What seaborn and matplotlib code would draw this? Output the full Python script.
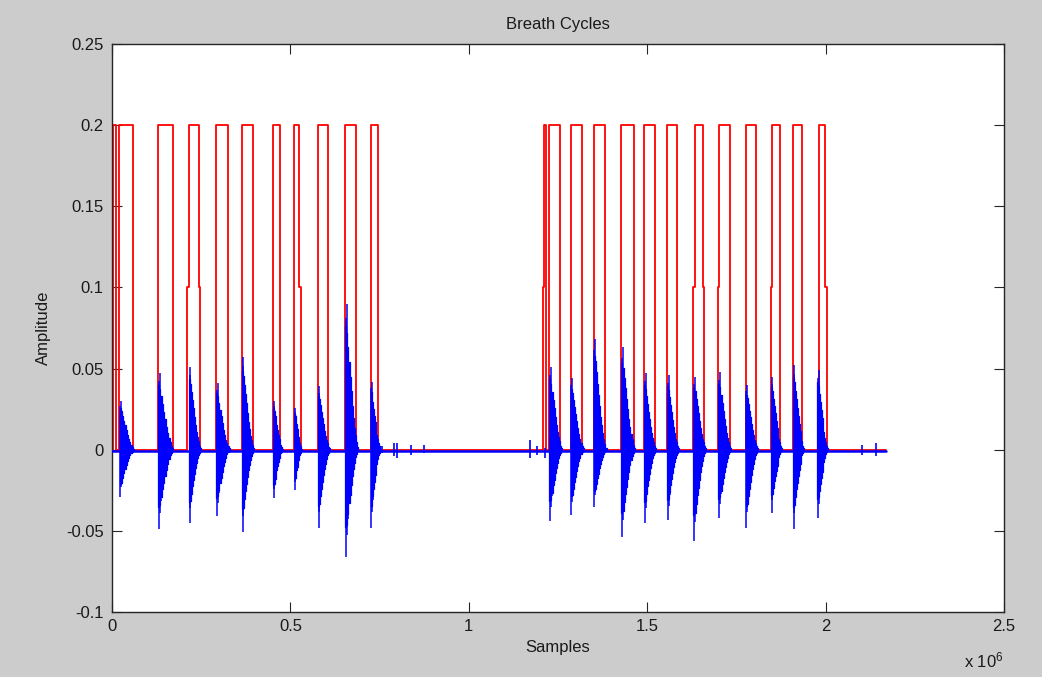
import numpy as np
import matplotlib
matplotlib.use("Agg")
import matplotlib.pyplot as plt
import seaborn as sns

# red gate: sample where each pulse leaves 0, reaches 0.2, leaves 0.2, is back at 0
gate_rise_lo = [4000, 20500, 128100, 211000, 291500, 364400, 452100, 510900, 577400, 653000, 725100,
                1208000, 1225600, 1285600, 1350900, 1427400, 1491900, 1556300, 1628400, 1698400,
                1776900, 1847800, 1909500, 1982400]
gate_rise_hi = [4000, 20500, 128100, 216600, 291500, 364400, 452100, 510900, 577400, 653000, 725100,
                1212000, 1225600, 1285600, 1350900, 1427400, 1491900, 1556300, 1633100, 1702100,
                1776900, 1850600, 1909500, 1982400]
gate_fall_hi = [10000, 59700, 170100, 243000, 326000, 394300, 470900, 525000, 606200, 683900, 746400,
                1215500, 1256400, 1317300, 1382600, 1462200, 1522700, 1584300, 1656400, 1731200,
                1804900, 1873100, 1934700, 1999100]
gate_fall_lo = [10000, 59700, 170100, 246600, 326000, 394300, 470900, 529700, 606200, 683900, 746400,
                1215500, 1256400, 1317300, 1382600, 1462200, 1522700, 1584300, 1660100, 1731200,
                1804900, 1873100, 1934700, 2003000]
gate_high = 0.2
gate_mid = 0.1
trace_end = 2170000

# blue breath sound: one burst per breath
burst_start = [21000, 128500, 216000, 291500, 364500, 452500, 511500, 577500, 653500, 725500,
               1225500, 1285500, 1350500, 1427500, 1491500, 1556500, 1629500, 1699500, 1776500,
               1847500, 1909500, 1977000]
burst_end = [62000, 172000, 250000, 330000, 398000, 478000, 532000, 610000, 690000, 752000,
             1262000, 1322000, 1386000, 1466000, 1526000, 1590000, 1665000, 1735000, 1810000,
             1878000, 1940000, 2006000]
burst_pos_peak = [0.030, 0.047, 0.051, 0.041, 0.057, 0.030, 0.026, 0.039, 0.090, 0.042,
                  0.051, 0.044, 0.068, 0.063, 0.047, 0.046, 0.045, 0.048, 0.040,
                  0.045, 0.052, 0.049]
burst_neg_peak = [-0.029, -0.049, -0.045, -0.041, -0.051, -0.030, -0.025, -0.048, -0.066, -0.048,
                  -0.044, -0.040, -0.035, -0.054, -0.045, -0.043, -0.056, -0.042, -0.048,
                  -0.039, -0.049, -0.042]
burst_pos_profile = [0.85, 0.8, 0.7, 0.6, 0.5, 0.4, 0.3, 0.22, 0.15, 0.1, 0.05, 0.02]
burst_neg_profile = [0.72, 0.7, 0.6, 0.5, 0.42, 0.33, 0.25, 0.18, 0.12, 0.07, 0.04, 0.015]
# the sharp spikes near the start of a burst
spike_frac = [0.05, 0.11, 0.19]
spike_pos_rel = [0.9, 1.0, 0.7]
spike_neg_rel = [1.0, 0.8, 0.65]
blue_dc = -0.0007

# small clicks between the breaths
blip_at = [757000, 790000, 798000, 839000, 874000, 1171500, 1190000, 1213600, 2101000, 2141000]
blip_hi = [0.002, 0.004, 0.004, 0.003, 0.003, 0.006, 0.002, 0.001, 0.003, 0.004]
blip_lo = [-0.002, -0.004, -0.005, -0.003, -0.002, -0.005, -0.003, -0.005, -0.003, -0.004]

x_ticks = [0, 500000, 1000000, 1500000, 2000000, 2500000]
x_tick_labels = ["0", "0.5", "1", "1.5", "2", "2.5"]
y_ticks = [-0.1, -0.05, 0, 0.05, 0.1, 0.15, 0.2, 0.25]
y_tick_labels = ["-0.1", "-0.05", "0", "0.05", "0.1", "0.15", "0.2", "0.25"]

sns.set_style("ticks")
plt.rcParams['font.family'] = ['Liberation Sans', 'DejaVu Sans']
plt.rcParams['mathtext.default'] = 'regular'

fig = plt.figure(figsize=(10.42, 6.77), dpi=100, facecolor='#cccccc')
ax = fig.add_axes([0.1075, 0.096, 0.856, 0.839])
ax.set_facecolor('white')

# gate trace
gx, gy = [0], [0]
for rl, rh, fh, fl in zip(gate_rise_lo, gate_rise_hi, gate_fall_hi, gate_fall_lo):
    gx += [rl, rl, rh, rh, fh, fh, fl, fl]
    gy += [0, gate_mid, gate_mid, gate_high, gate_high, gate_mid, gate_mid, 0]
gx.append(trace_end)
gy.append(0)
sns.lineplot(x=gx, y=gy, sort=False, estimator=None, color='#ff0000', lw=1.3, ax=ax, zorder=2)

# sound trace
sns.lineplot(x=[0, trace_end], y=[blue_dc, blue_dc], sort=False, estimator=None,
             color='#0000ff', lw=1.8, ax=ax, zorder=3)
pos_prof = np.array(burst_pos_profile + [burst_pos_profile[-1]])
neg_prof = np.array(burst_neg_profile + [burst_neg_profile[-1]])
n = len(burst_pos_profile)
for s, e, hi, lo in zip(burst_start, burst_end, burst_pos_peak, burst_neg_peak):
    edges = s + (e - s) * np.arange(n + 1) / n
    ax.fill_between(edges, lo * neg_prof, hi * pos_prof, step='post', color='#0000ff', lw=0.9, zorder=3)
    for f, rp, rn in zip(spike_frac, spike_pos_rel, spike_neg_rel):
        ax.vlines(s + f * (e - s), lo * rn, hi * rp, color='#0000ff', lw=1.1, zorder=3)
ax.vlines(blip_at, blip_lo, blip_hi, color='#0000ff', lw=1.2, zorder=3)

ax.set_xlim(0, 2500000)
ax.set_ylim(-0.1, 0.25)
ax.set_xticks(x_ticks)
ax.set_xticklabels(x_tick_labels)
ax.set_yticks(y_ticks)
ax.set_yticklabels(y_tick_labels)
ax.tick_params(direction='in', length=7, width=0.8, color='#262626', labelsize=12,
               top=True, right=True, labelcolor='#1a1a1a')
ax.tick_params(axis='x', pad=5)
ax.tick_params(axis='y', pad=6)
for sp in ax.spines.values():
    sp.set_visible(True)
    sp.set_color('#262626')
    sp.set_linewidth(1.0)

ax.set_title('Breath Cycles', fontsize=12, pad=11, color='#1a1a1a')
ax.set_xlabel('Samples', fontsize=12, color='#1a1a1a')
ax.set_ylabel('Amplitude', fontsize=12, color='#1a1a1a')
ax.xaxis.set_label_coords(0.5, -0.05)
ax.yaxis.set_label_coords(-0.068, 0.5)
ax.text(1.0, -0.085, r'x 10$^6$', transform=ax.transAxes, ha='right', va='center',
        fontsize=12, color='#1a1a1a')

fig.savefig('out.png', dpi=100, facecolor=fig.get_facecolor())
